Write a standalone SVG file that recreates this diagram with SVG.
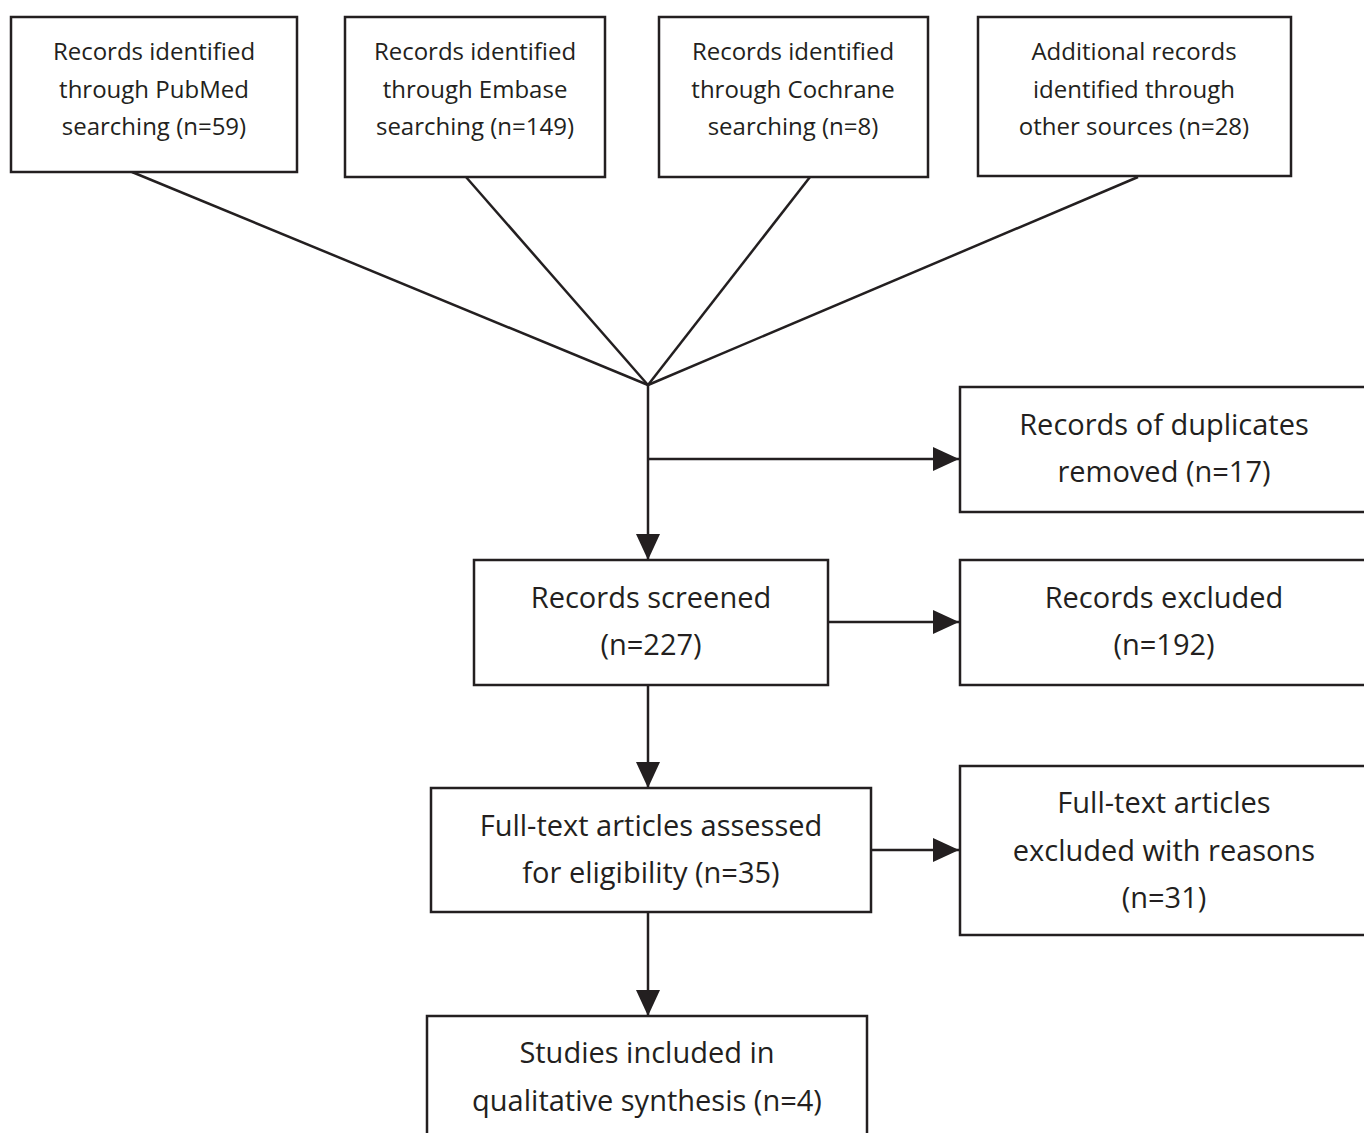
<svg xmlns="http://www.w3.org/2000/svg" width="1364" height="1133" viewBox="0 0 1364 1133">
<style>
.box{fill:#fff;stroke:#231f20;stroke-width:2.5}
.ln{fill:none;stroke:#231f20;stroke-width:2.5}
.s{font-family:"Open Sans","Liberation Sans",sans-serif;font-size:24px;fill:#231f20;text-anchor:middle}
.b{font-family:"Open Sans","Liberation Sans",sans-serif;font-size:29px;fill:#231f20;text-anchor:middle}
</style>
<defs>
<marker id="ah" markerUnits="userSpaceOnUse" markerWidth="26" markerHeight="24" refX="26" refY="12" orient="auto">
<path d="M0,0 L26,12 L0,24 z" fill="#231f20"/>
</marker>
</defs>
<rect width="1364" height="1133" fill="#fff"/>
<g id="connectors">
<line class="ln" x1="132" y1="172" x2="648" y2="385"/>
<line class="ln" x1="466" y1="177" x2="648" y2="385"/>
<line class="ln" x1="810" y1="177" x2="648" y2="385"/>
<line class="ln" x1="1138" y1="177" x2="648" y2="385"/>
<line class="ln" x1="648" y1="385" x2="648" y2="560" marker-end="url(#ah)"/>
<line class="ln" x1="648" y1="459" x2="959" y2="459" marker-end="url(#ah)"/>
<line class="ln" x1="828" y1="622" x2="959" y2="622" marker-end="url(#ah)"/>
<line class="ln" x1="648" y1="685" x2="648" y2="788" marker-end="url(#ah)"/>
<line class="ln" x1="871" y1="850" x2="959" y2="850" marker-end="url(#ah)"/>
<line class="ln" x1="648" y1="912" x2="648" y2="1016" marker-end="url(#ah)"/>
</g>
<g id="pubmed">
<rect class="box" x="11" y="17" width="286" height="155"/>
<text class="s" x="154" y="60">Records identified</text>
<text class="s" x="154" y="98">through PubMed</text>
<text class="s" x="154" y="135">searching (n=59)</text>
</g>
<g id="embase">
<rect class="box" x="345" y="17" width="260" height="160"/>
<text class="s" x="475" y="60">Records identified</text>
<text class="s" x="475" y="98">through Embase</text>
<text class="s" x="475" y="135">searching (n=149)</text>
</g>
<g id="cochrane">
<rect class="box" x="659" y="17" width="269" height="160"/>
<text class="s" x="793" y="60">Records identified</text>
<text class="s" x="793" y="98">through Cochrane</text>
<text class="s" x="793" y="135">searching (n=8)</text>
</g>
<g id="other">
<rect class="box" x="978" y="17" width="313" height="159"/>
<text class="s" x="1134" y="60">Additional records</text>
<text class="s" x="1134" y="98">identified through</text>
<text class="s" x="1134" y="135">other sources (n=28)</text>
</g>
<g id="duplicates">
<rect class="box" x="960" y="387" width="420" height="125"/>
<text class="b" x="1164" y="435">Records of duplicates</text>
<text class="b" x="1164" y="482">removed (n=17)</text>
</g>
<g id="screened">
<rect class="box" x="474" y="560" width="354" height="125"/>
<text class="b" x="651" y="608">Records screened</text>
<text class="b" x="651" y="655">(n=227)</text>
</g>
<g id="excluded">
<rect class="box" x="960" y="560" width="420" height="125"/>
<text class="b" x="1164" y="608">Records excluded</text>
<text class="b" x="1164" y="655">(n=192)</text>
</g>
<g id="fulltext">
<rect class="box" x="431" y="788" width="440" height="124"/>
<text class="b" x="651" y="836">Full-text articles assessed</text>
<text class="b" x="651" y="883">for eligibility (n=35)</text>
</g>
<g id="fulltext-excluded">
<rect class="box" x="960" y="766" width="420" height="169"/>
<text class="b" x="1164" y="813">Full-text articles</text>
<text class="b" x="1164" y="861">excluded with reasons</text>
<text class="b" x="1164" y="908">(n=31)</text>
</g>
<g id="included">
<rect class="box" x="427" y="1016" width="440" height="140"/>
<text class="b" x="647" y="1063">Studies included in</text>
<text class="b" x="647" y="1111">qualitative synthesis (n=4)</text>
</g>
</svg>
